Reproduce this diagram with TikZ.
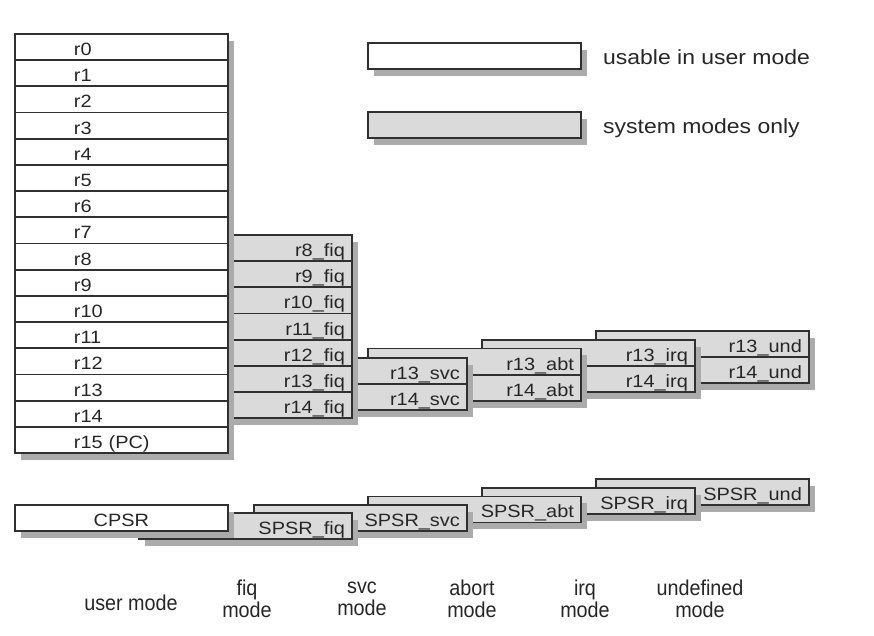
\documentclass[tikz,border=0pt]{standalone}
\usepackage{fontspec}
\setmainfont{Liberation Sans}
\newfontfamily\regfont{Liberation Sans}[FakeStretch=1.12]
\newfontfamily\modefont{Liberation Sans}[FakeStretch=0.92]
\usetikzlibrary{shadows}
\definecolor{boxline}{HTML}{303030}
\definecolor{boxgray}{HTML}{DADADA}
\definecolor{shadowgray}{HTML}{ABABAB}
\definecolor{txt}{HTML}{262626}
\begin{document}
\begin{tikzpicture}[x=1pt,y=-1pt,
  reg/.style={draw=boxline, line width=1.8pt, minimum height=26.2pt,
    inner xsep=7pt, inner ysep=0pt, text width=199pt, text height=17pt, text depth=0pt,
    anchor=north west, text=txt, font=\regfont\fontsize{17.8}{18}\selectfont,
    drop shadow={shadow xshift=6pt, shadow yshift=-7pt, fill=shadowgray, opacity=1}},
  userbox/.style={reg, fill=white, align=left},
  sysbox/.style={reg, fill=boxgray, align=right},
  cpsrbox/.style={reg, fill=white, align=center, minimum height=26pt},
  spsrbox/.style={reg, fill=boxgray, align=right, minimum height=26pt},
  legtext/.style={anchor=base west, text=txt, inner sep=0pt, font=\regfont\fontsize{20.5}{22}\selectfont},
  modetext/.style={anchor=center, align=center, text=txt, inner sep=0pt, font=\modefont\fontsize{21.5}{22}\selectfont}
]
\useasboundingbox[fill=white] (0,0) rectangle (874,635);

% ---- legend ----
\node[userbox] (leguser) at (367,42) {};
\node[sysbox] (legsys) at (367,111) {};
\node[legtext] (legusertxt) at (603,64) {usable in user mode};
\node[legtext] (legsystxt) at (603,133) {system modes only};

% ---- banked registers, back to front ----
\node[sysbox] (r13und) at (595,330) {r13\_und};
\node[sysbox] (r14und) at (595,356.2) {r14\_und};
\node[sysbox] (r13irq) at (481,339) {r13\_irq};
\node[sysbox] (r14irq) at (481,365.2) {r14\_irq};
\node[sysbox] (r13abt) at (367,347.5) {r13\_abt};
\node[sysbox] (r14abt) at (367,373.7) {r14\_abt};
\node[sysbox] (r13svc) at (253,357) {r13\_svc};
\node[sysbox] (r14svc) at (253,383.2) {r14\_svc};
\foreach \i in {8,...,14}{
  \node[sysbox] (r\i fiq) at (138,{234+(\i-8)*26.2}) {r\i\_fiq};
}
\foreach \i in {0,...,14}{
  \node[userbox] (r\i) at (14,{33+\i*26.2}) {\hspace*{52pt}r\i};
}
\node[userbox] (r15) at (14,{33+15*26.2}) {\hspace*{52pt}r15 (PC)};

% ---- status registers, back to front ----
\node[spsrbox] (spsrund) at (595,478) {SPSR\_und};
\node[spsrbox] (spsrirq) at (481,487) {SPSR\_irq};
\node[spsrbox] (spsrabt) at (367,495.5) {SPSR\_abt};
\node[spsrbox] (spsrsvc) at (253,504) {SPSR\_svc};
\node[spsrbox] (spsrfiq) at (138,512) {SPSR\_fiq};
\node[cpsrbox] (cpsr) at (14,504) {CPSR};

% ---- mode labels ----
\node[modetext] (musr) at (131,603) {user mode};
\node[modetext] (mfiq) at (247,599) {fiq\\mode};
\node[modetext] (msvc) at (362,599) {svc\\mode};
\node[modetext] (mabt) at (472,599) {abort\\mode};
\node[modetext] (mirq) at (585,599) {irq\\mode};
\node[modetext] (mund) at (700,599) {undefined\\mode};
\end{tikzpicture}
\end{document}
